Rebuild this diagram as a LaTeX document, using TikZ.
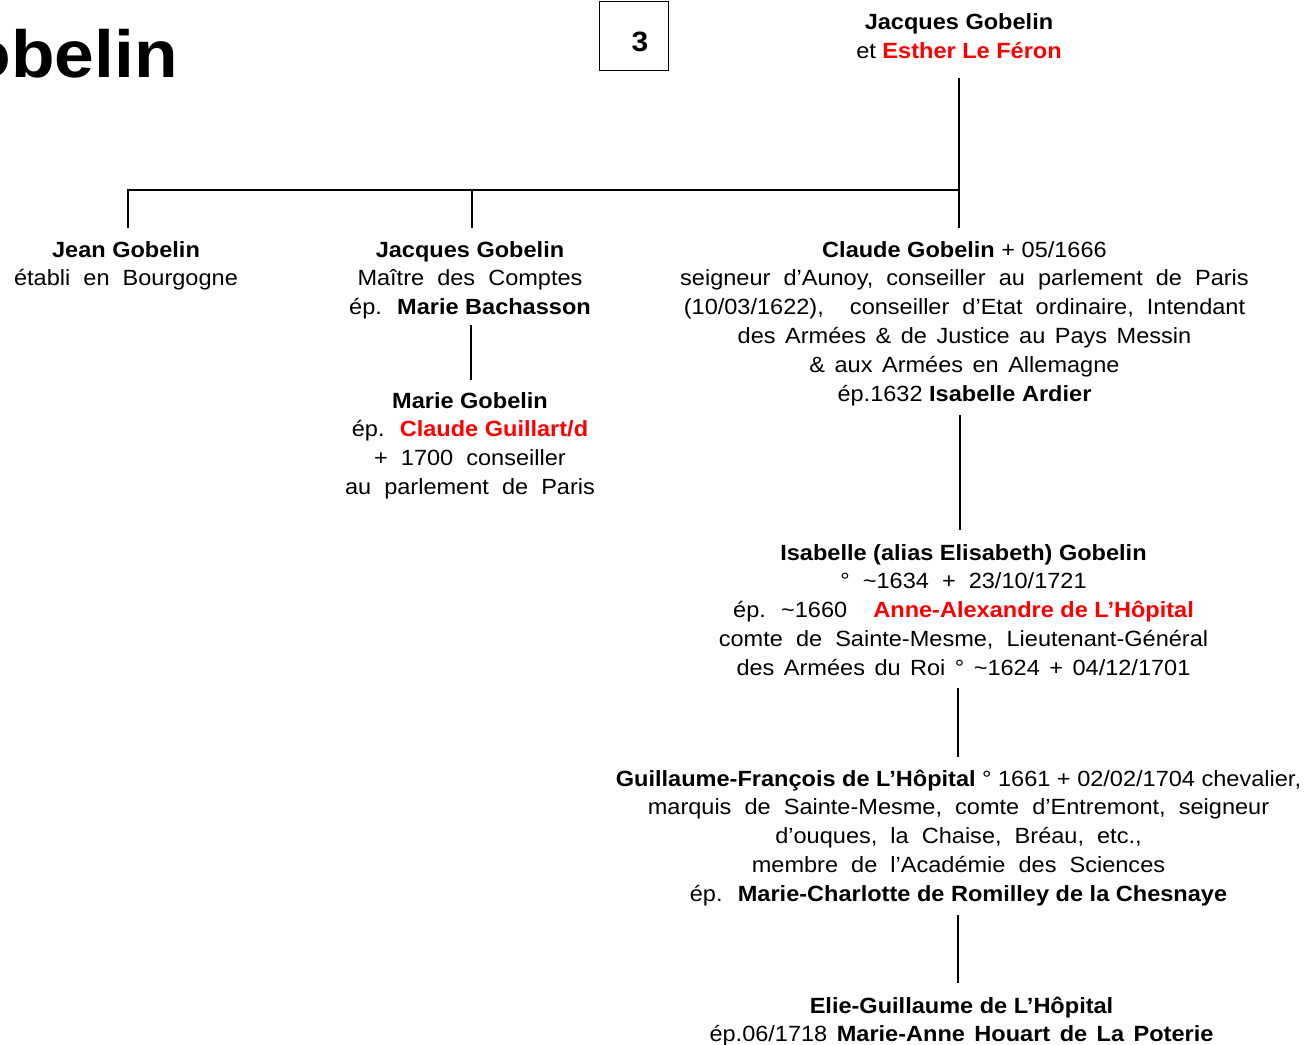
\documentclass[tikz,border=0pt]{standalone}
\usepackage{fontspec}
\setmainfont{Liberation Sans}[FakeStretch=1.07]
\definecolor{gred}{RGB}{255,0,0}
\newcommand\bb[1]{{\spaceskip=0pt\relax\bfseries #1}}
\newcommand\ns[1]{{\spaceskip=0pt\relax #1}}
\newcommand\ms[1]{{\spaceskip=7.1pt\relax #1}}
\newcommand\widesp{\spaceskip=9.8pt\relax}
\begin{document}
\begin{tikzpicture}[x=0.75pt,y=-0.75pt,
  txt/.style={anchor=base,align=center,inner sep=0pt,font=\fontsize{16.5pt}{21.6pt}\selectfont\widesp},
  link/.style={line width=1.5pt},
  boxnum/.style={draw,line width=0.75pt,minimum width=51.75pt,minimum height=51.75pt,inner sep=0pt},
  numtxt/.style={inner sep=0pt,font=\fontsize{21pt}{24pt}\selectfont\bfseries}]
\clip (0,0) rectangle (1315,1045);
\fill[white] (0,0) rectangle (1315,1045);
\node[anchor=base east,inner sep=0pt,font=\fontsize{50pt}{60pt}\selectfont\bfseries] (title) at (178,78) {Gobelin};
\node[boxnum] (num) at (633.5,36.5) {};
\node[numtxt] (numlabel) at (640,41.5) {3};
\node[txt] (top) at (959,58.8) {\bb{Jacques Gobelin}\\\ns{et \textcolor{gred}{\bb{Esther Le Féron}}}};
\node[txt] (jean) at (126,285.8) {\bb{Jean Gobelin}\\établi en Bourgogne};
\node[txt] (jacques) at (470,314.6) {\bb{Jacques Gobelin}\\Maître des Comptes\\ép. \bb{Marie Bachasson}};
\node[txt] (marie) at (470,494.4) {\bb{Marie Gobelin}\\ép. \textcolor{gred}{\bb{Claude Guillart/d}}\\+ 1700 conseiller\\au parlement de Paris};
\node[txt] (claude) at (964.5,401) {\ns{\bb{Claude Gobelin} + 05/1666}\\seigneur d’Aunoy, conseiller au parlement de Paris\\(10/03/1622),\ \ conseiller d’Etat ordinaire, Intendant\\\ms{des Armées \& de Justice au Pays Messin}\\\ms{\& aux Armées en Allemagne}\\\ns{ép.1632 \bb{Isabelle Ardier}}};
\node[txt] (isabelle) at (963.5,675.2) {\bb{Isabelle (alias Elisabeth) Gobelin}\\° \textasciitilde1634 + 23/10/1721\\ép. \textasciitilde1660\ \ \textcolor{gred}{\bb{Anne-Alexandre de L’Hôpital}}\\comte de Sainte-Mesme, Lieutenant-Général\\\ms{des Armées du Roi ° \textasciitilde1624 + 04/12/1701}};
\node[txt] (guillaume) at (958.5,901.2) {\ns{\bb{Guillaume-François de L’Hôpital} ° 1661 + 02/02/1704 chevalier,}\\marquis de Sainte-Mesme, comte d’Entremont, seigneur\\d’ouques, la Chaise, Bréau, etc.,\\membre de l’Académie des Sciences\\ép. \bb{Marie-Charlotte de Romilley de la Chesnaye}};
\node[txt] (elie) at (961.5,1041.8) {\bb{Elie-Guillaume de L’Hôpital}\\\ms{ép.06/1718 {\bfseries Marie-Anne Houart de La Poterie}}};
% connector ends
\coordinate (topS) at (959,78);
\coordinate (barR) at (959,190);
\coordinate (barL) at (128,190);
\coordinate (barM) at (472,190);
\coordinate (jeanN) at (128,228);
\coordinate (jacquesN) at (472,228);
\coordinate (claudeN) at (959,228);
\coordinate (jacquesS) at (471,325);
\coordinate (marieN) at (471,380);
\coordinate (claudeS) at (960,415);
\coordinate (isabelleN) at (960,530);
\coordinate (isabelleS) at (958,688);
\coordinate (guillaumeN) at (958,757);
\coordinate (guillaumeS) at (958,915);
\coordinate (elieN) at (958,983);
\draw[link] (topS) -- (claudeN);
\draw[link] (jeanN) -- (barL) -- (barR);
\draw[link] (barM) -- (jacquesN);
\draw[link] (jacquesS) -- (marieN);
\draw[link] (claudeS) -- (isabelleN);
\draw[link] (isabelleS) -- (guillaumeN);
\draw[link] (guillaumeS) -- (elieN);
\end{tikzpicture}
\end{document}
